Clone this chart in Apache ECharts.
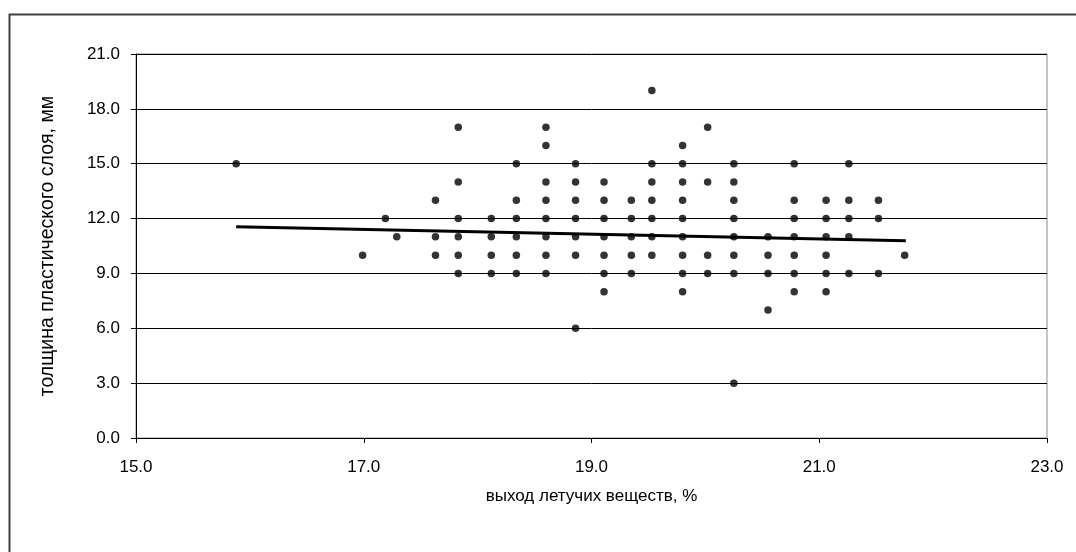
<!DOCTYPE html>
<html>
<head>
<meta charset="utf-8">
<script src="https://cdn.jsdelivr.net/npm/echarts@6/dist/echarts.min.js"></script>
<style>
html,body{margin:0;padding:0;background:#fff;}
#chart{width:1076px;height:552px;}
</style>
</head>
<body>
<div id="chart"></div>
<script>
// Data
const pointsX = [
  15.88,
  16.99,
  17.19,
  17.29,
  17.63, 17.63, 17.63,
  17.83, 17.83, 17.83, 17.83, 17.83, 17.83,
  18.12, 18.12, 18.12, 18.12,
  18.34, 18.34, 18.34, 18.34, 18.34, 18.34,
  18.60, 18.60, 18.60, 18.60, 18.60, 18.60, 18.60, 18.60,
  18.86, 18.86, 18.86, 18.86, 18.86, 18.86, 18.86,
  19.11, 19.11, 19.11, 19.11, 19.11, 19.11, 19.11,
  19.35, 19.35, 19.35, 19.35, 19.35,
  19.53, 19.53, 19.53, 19.53, 19.53, 19.53, 19.53,
  19.80, 19.80, 19.80, 19.80, 19.80, 19.80, 19.80, 19.80, 19.80,
  20.02, 20.02, 20.02, 20.02,
  20.25, 20.25, 20.25, 20.25, 20.25, 20.25, 20.25, 20.25,
  20.55, 20.55, 20.55, 20.55,
  20.78, 20.78, 20.78, 20.78, 20.78, 20.78, 20.78,
  21.06, 21.06, 21.06, 21.06, 21.06, 21.06,
  21.26, 21.26, 21.26, 21.26, 21.26,
  21.52, 21.52, 21.52,
  21.75
];
const pointsY = [
  15,
  10,
  12,
  11,
  13, 11, 10,
  17, 14, 12, 11, 10, 9,
  12, 11, 10, 9,
  15, 13, 12, 11, 10, 9,
  17, 16, 14, 13, 12, 11, 10, 9,
  15, 14, 13, 12, 11, 10, 6,
  14, 13, 12, 11, 10, 9, 8,
  13, 12, 11, 10, 9,
  19, 15, 14, 13, 12, 11, 10,
  16, 15, 14, 13, 12, 11, 10, 9, 8,
  17, 14, 10, 9,
  15, 14, 13, 12, 11, 10, 9, 3,
  11, 10, 9, 7,
  15, 13, 12, 11, 10, 9, 8,
  13, 12, 11, 10, 9, 8,
  15, 13, 12, 11, 9,
  13, 12, 9,
  10
];
// Linear trend line end points
const trendX = [15.88, 21.76];
const trendY = [11.55, 10.79];

const xTicks = { min: 15, max: 23, step: 2 };
const yTicks = { min: 0, max: 21, step: 3 };
const xTitle = 'выход летучих веществ, %';
const yTitle = 'толщина пластического слоя, мм';

const scatterData = pointsX.map((x, i) => [x, pointsY[i]]);
const trendData = trendX.map((x, i) => [x, trendY[i]]);

const FONT = '"Liberation Sans", Arial, sans-serif';
const chart = echarts.init(document.getElementById('chart'), null, { renderer: 'canvas' });
chart.setOption({
  backgroundColor: '#ffffff',
  animation: false,
  textStyle: { fontFamily: FONT },
  graphic: [
    {
      type: 'rect',
      left: 7, top: 12,
      shape: { width: 1100, height: 600 },
      style: { fill: 'none', stroke: '#404040', lineWidth: 2 },
      z: 100
    }
  ],
  grid: {
    left: 136, right: 29, top: 54, bottom: 114,
    show: true, borderColor: '#8c8c8c', borderWidth: 1, backgroundColor: 'transparent'
  },
  xAxis: {
    type: 'value',
    min: xTicks.min, max: xTicks.max, interval: xTicks.step,
    name: xTitle,
    nameLocation: 'middle',
    nameGap: 50,
    nameTextStyle: { color: '#000', fontSize: 17, fontFamily: FONT },
    axisLine: { onZero: false, lineStyle: { color: '#000', width: 1 } },
    axisTick: { show: true, inside: false, length: 5, lineStyle: { color: '#000' } },
    axisLabel: { color: '#000', fontSize: 17, margin: 21, fontFamily: FONT, formatter: v => v.toFixed(1) },
    splitLine: { show: false }
  },
  yAxis: {
    type: 'value',
    min: yTicks.min, max: yTicks.max, interval: yTicks.step,
    name: yTitle,
    nameLocation: 'middle',
    nameGap: 78,
    nameRotate: 90,
    nameTextStyle: { color: '#000', fontSize: 19.5, fontFamily: FONT },
    axisLine: { show: true, onZero: false, lineStyle: { color: '#000', width: 1 } },
    axisTick: { show: true, inside: false, length: 5, lineStyle: { color: '#000' } },
    axisLabel: { color: '#000', fontSize: 17, margin: 16, fontFamily: FONT, formatter: v => v.toFixed(1) },
    splitLine: { show: true, lineStyle: { color: '#000', width: 1 } }
  },
  series: [
    {
      type: 'scatter',
      data: scatterData,
      symbol: 'circle',
      symbolSize: 7.5,
      itemStyle: { color: '#000' },
      z: 3
    },
    {
      type: 'line',
      data: trendData,
      showSymbol: false,
      symbol: 'none',
      lineStyle: { color: '#000', width: 3 },
      z: 4
    }
  ]
});
</script>
</body>
</html>
